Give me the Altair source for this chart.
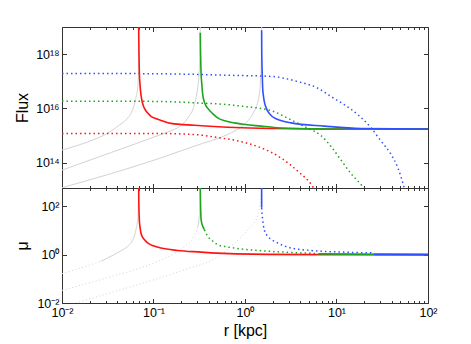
import altair as alt
import pandas as pd

# ---------------- data (log10 r [kpc], log10 value) ----------------
# Top panel: Flux
gray1_top_logr = [-2.0, -1.8, -1.647, -1.55, -1.464, -1.38, -1.282, -1.24, -1.21, -1.19, -1.173, -1.166, -1.1625, -1.162]
gray1_top_logf = [14.47, 14.67, 14.86, 15.0, 15.17, 15.37, 15.65, 15.86, 16.14, 16.42, 16.76, 17.2, 17.8, 19.0]
gray2_top_logr = [-2.0, -1.46, -0.918, -0.8, -0.736, -0.626, -0.554, -0.517, -0.5, -0.492, -0.489]
gray2_top_logf = [13.73, 14.38, 15.04, 15.19, 15.29, 15.65, 16.14, 16.76, 17.4, 18.2, 19.0]
gray3_top_logr = [-2.0, -0.918, -0.554, -0.19, -0.1, -0.008, 0.05, 0.101, 0.156, 0.175, 0.18, 0.182]
gray3_top_logf = [13.08, 14.18, 14.61, 15.04, 15.19, 15.41, 15.62, 15.90, 16.51, 17.37, 18.2, 19.0]

red_solid_top_logr = [-1.162, -1.161, -1.158, -1.155, -1.148, -1.137, -1.12, -1.10, -1.06, -1.027, -0.97, -0.918, -0.809, -0.554, -0.19, 0.284, 1.0, 2.0]
red_solid_top_logf = [19.0, 18.6, 17.9, 17.37, 16.9, 16.51, 16.2, 16.01, 15.82, 15.71, 15.62, 15.56, 15.45, 15.38, 15.31, 15.26, 15.24, 15.24]
red_dot_top_logr = [-2.0, -1.0, -0.554, -0.3, -0.044, 0.175, 0.393, 0.576, 0.721, 0.75]
red_dot_top_logf = [15.08, 15.08, 15.04, 14.93, 14.78, 14.55, 14.18, 13.69, 13.21, 13.07]

green_solid_top_logr = [-0.489, -0.487, -0.484, -0.481, -0.472, -0.462, -0.44, -0.408, -0.35, -0.299, -0.2, -0.117, 0.0, 0.175, 0.32, 0.686, 1.0, 2.0]
green_solid_top_logf = [18.79, 18.3, 17.8, 17.37, 16.9, 16.51, 16.2, 16.01, 15.8, 15.65, 15.53, 15.47, 15.41, 15.35, 15.30, 15.25, 15.24, 15.24]
green_dot_top_logr = [-2.0, -1.0, -0.5, -0.19, 0.0, 0.284, 0.503, 0.686, 0.831, 0.94, 1.049, 1.158, 1.268, 1.30]
green_dot_top_logf = [16.27, 16.26, 16.2, 16.14, 16.07, 15.92, 15.58, 15.27, 15.0, 14.6, 14.1, 13.6, 13.2, 13.07]

blue_solid_top_logr = [0.182, 0.1825, 0.185, 0.189, 0.193, 0.2, 0.21, 0.228, 0.248, 0.28, 0.32, 0.4, 0.503, 0.867, 1.268, 2.0]
blue_solid_top_logf = [18.88, 18.3, 17.7, 17.2, 16.76, 16.5, 16.27, 16.05, 15.90, 15.76, 15.65, 15.55, 15.47, 15.35, 15.26, 15.24]
blue_dot_top_logr = [-2.0, -1.0, -0.153, 0.284, 0.576, 0.794, 0.94, 1.085, 1.23, 1.377, 1.486, 1.596, 1.67, 1.74]
blue_dot_top_logf = [17.29, 17.28, 17.22, 17.18, 16.99, 16.75, 16.44, 16.14, 15.78, 15.29, 14.80, 14.31, 13.82, 13.08]

# Bottom panel: magnification mu
gray1_bot_dot_logr = [-2.0, -1.792, -1.574]
gray1_bot_dot_logm = [-0.79, -0.55, -0.28]
gray1_bot_solid_logr = [-1.574, -1.5, -1.428, -1.35, -1.282, -1.24, -1.21, -1.19, -1.173, -1.166, -1.162]
gray1_bot_solid_logm = [-0.28, -0.13, 0.0, 0.17, 0.34, 0.52, 0.76, 1.05, 1.45, 2.0, 2.75]
gray2_bot_dot_logr = [-2.0, -1.5, -1.0, -0.75, -0.626, -0.554, -0.52]
gray2_bot_dot_logm = [-1.48, -0.95, -0.35, 0.1, 0.45, 0.76, 1.1]
gray2_bot_solid_logr = [-0.52, -0.5, -0.492, -0.489]
gray2_bot_solid_logm = [1.1, 1.6, 2.1, 2.75]
gray3_bot_dot_logr = [-1.85, -1.4, -0.918, -0.6, -0.372, -0.262, -0.15, -0.044, 0.05, 0.101, 0.156, 0.175, 0.182]
gray3_bot_dot_logm = [-2.0, -1.5, -0.95, -0.55, -0.25, 0.0, 0.35, 0.72, 1.1, 1.31, 1.86, 2.4, 2.75]

red_bot_logr = [-1.162, -1.1605, -1.158, -1.155, -1.147, -1.137, -1.12, -1.1, -1.064, -1.0, -0.918, -0.736, -0.48, -0.372, 0.248, 0.83, 2.0]
red_bot_logm = [2.75, 2.2, 1.75, 1.45, 1.12, 0.89, 0.72, 0.62, 0.48, 0.36, 0.27, 0.17, 0.1, 0.07, 0.01, 0.0, 0.0]

green_bot_solid1_logr = [-0.489, -0.487, -0.484, -0.48, -0.465, -0.444]
green_bot_solid1_logm = [2.75, 2.3, 1.8, 1.45, 1.2, 1.03]
green_bot_dot_logr = [-0.444, -0.408, -0.35, -0.299, -0.2, -0.117, 0.248, 0.612, 0.8]
green_bot_dot_logm = [1.03, 0.76, 0.55, 0.41, 0.32, 0.27, 0.14, 0.07, 0.04]
green_bot_solid2_logr = [0.8, 1.41, 2.0]
green_bot_solid2_logm = [0.03, 0.01, 0.0]

blue_bot_solid1_logr = [0.182, 0.1821]
blue_bot_solid1_logm = [2.75, 1.93]
blue_bot_dot_logr = [0.182, 0.186, 0.193, 0.21, 0.248, 0.3, 0.357, 0.503, 0.721, 1.085, 1.41]
blue_bot_dot_logm = [1.93, 1.7, 1.45, 1.03, 0.76, 0.6, 0.48, 0.27, 0.17, 0.10, 0.07]
blue_bot_solid2_logr = [1.41, 2.0]
blue_bot_solid2_logm = [0.01, 0.0]

# axis ticks
x_major = [0.01, 0.1, 1, 10, 100]
x_minor = [k * 10.0 ** d for d in range(-2, 2) for k in range(2, 10)]
top_y_major = [1e14, 1e16, 1e18]
bot_y_major = [1e-2, 1e0, 1e2]

# ---------------- styling ----------------
RED, GREEN, BLUE, GRAY = "#ff1414", "#1ea51e", "#2f50ff", "#d2d2d2"
FONT = "Liberation Sans"
FRAME = "#333333"

rows = []


def add(panel, name, logr, logv, color, style):
    for i, (a, b) in enumerate(zip(logr, logv)):
        rows.append(dict(panel=panel, seg=name, i=i, r=10.0 ** a, v=10.0 ** b,
                         color=color, style=style))


add("top", "g1", gray1_top_logr, gray1_top_logf, GRAY, "gsolid")
add("top", "g2", gray2_top_logr, gray2_top_logf, GRAY, "gsolid")
add("top", "g3", gray3_top_logr, gray3_top_logf, GRAY, "gsolid")
add("top", "rd", red_dot_top_logr, red_dot_top_logf, RED, "dot")
add("top", "gd", green_dot_top_logr, green_dot_top_logf, GREEN, "dot")
add("top", "bd", blue_dot_top_logr, blue_dot_top_logf, BLUE, "dot")
add("top", "rs", red_solid_top_logr, red_solid_top_logf, RED, "solid")
add("top", "gs", green_solid_top_logr, green_solid_top_logf, GREEN, "solid")
add("top", "bs", blue_solid_top_logr, blue_solid_top_logf, BLUE, "solid")

add("bot", "g1d", gray1_bot_dot_logr, gray1_bot_dot_logm, GRAY, "gdot")
add("bot", "g1s", gray1_bot_solid_logr, gray1_bot_solid_logm, GRAY, "gsolid")
add("bot", "g2d", gray2_bot_dot_logr, gray2_bot_dot_logm, GRAY, "gdot")
add("bot", "g2s", gray2_bot_solid_logr, gray2_bot_solid_logm, GRAY, "gsolid")
add("bot", "g3d", gray3_bot_dot_logr, gray3_bot_dot_logm, GRAY, "gdot")
add("bot", "gd", green_bot_dot_logr, green_bot_dot_logm, GREEN, "dot")
add("bot", "bd", blue_bot_dot_logr, blue_bot_dot_logm, BLUE, "dot")
add("bot", "rs", red_bot_logr, red_bot_logm, RED, "solid")
add("bot", "gs1", green_bot_solid1_logr, green_bot_solid1_logm, GREEN, "solid")
add("bot", "gs2", green_bot_solid2_logr, green_bot_solid2_logm, GREEN, "solid")
add("bot", "bs1", blue_bot_solid1_logr, blue_bot_solid1_logm, BLUE, "solid")
add("bot", "bs2", blue_bot_solid2_logr, blue_bot_solid2_logm, BLUE, "solid")

df = pd.DataFrame(rows)

SUP = {-2: "⁻²", -1: "⁻¹", 0: "⁰", 1: "¹", 2: "²", 14: "¹⁴", 16: "¹⁶", 18: "¹⁸"}


def label_expr(exps):
    e = "round(log(datum.value)/LN10)"
    expr = "''"
    for k in reversed(exps):
        expr = f"({e}=={k} ? '10{SUP[k]}' : {expr})"
    return expr


W = 366
MAJ, MIN = 4.5, 2.5


def xaxis(orient, values, size, labels, title=None):
    kw = dict(orient=orient, values=values, tickSize=size, offset=-size, domain=False,
              grid=False, tickColor=FRAME, tickWidth=1, labels=labels, title=title)
    if labels:
        kw.update(labelExpr=label_expr([-2, -1, 0, 1, 2]), labelFont=FONT, labelFontSize=12.5,
                  labelColor="black", labelPadding=3, labelFlush=False, labelOverlap=False)
    if title:
        kw.update(titleFont=FONT, titleFontSize=16, titleFontWeight="normal", titleColor="black",
                  titleX=W / 2, titleY=32, titleBaseline="middle", titleAlign="center")
    return alt.Axis(**kw)


def yaxis(orient, values, exps, labels, title, h):
    kw = dict(orient=orient, values=values, tickSize=MAJ, offset=-MAJ, domain=False,
              grid=False, tickColor=FRAME, tickWidth=1, labels=labels, title=title)
    if labels:
        kw.update(labelExpr=label_expr(exps), labelFont=FONT, labelFontSize=12.5,
                  labelColor="black", labelPadding=3, labelOverlap=False)
    if title:
        kw.update(titleFont=FONT, titleFontSize=16, titleFontWeight="normal", titleColor="black",
                  titleX=-44.5, titleY=h / 2, titleBaseline="middle", titleAlign="center", titleAngle=270)
    return alt.Axis(**kw)


def panel(name, ydom, ymaj, yexps, ytitle, h, bottom_labels):
    d = df[df.panel == name]
    xs = alt.Scale(type="log", domain=[0.01, 100], nice=False)
    ys = alt.Scale(type="log", domain=ydom, nice=False)
    enc = dict(x=alt.X("r:Q", scale=xs, axis=None), y=alt.Y("v:Q", scale=ys, axis=None),
               color=alt.Color("color:N", scale=None), detail="seg:N", order="i:Q")
    layers = []
    styles = [("gsolid", 1.0, None), ("gdot", 1.0, [1, 2.5]), ("dot", 1.5, [1.5, 3]), ("solid", 1.6, None)]
    for st, wdt, dash in styles:
        sub = d[d["style"] == st]
        if len(sub) == 0:
            continue
        mk = dict(clip=True, strokeWidth=wdt, strokeCap="butt", interpolate="monotone")
        if dash:
            mk["strokeDash"] = dash
        layers.append(alt.Chart(sub).mark_line(**mk).encode(**enc))
    ax = pd.DataFrame({"r": [1.0], "v": [ymaj[1]]})
    axis_specs = [
        (xaxis("bottom", x_major, MAJ, bottom_labels, "r [kpc]" if bottom_labels else None),
         yaxis("left", ymaj, yexps, True, ytitle, h)),
        (xaxis("bottom", x_minor, MIN, False), yaxis("right", ymaj, yexps, False, None, h)),
        (xaxis("top", x_major, MAJ, False), None),
        (xaxis("top", x_minor, MIN, False), None),
    ]
    for xa, ya in axis_specs:
        e = dict(x=alt.X("r:Q", scale=xs, axis=xa))
        e["y"] = alt.Y("v:Q", scale=ys, axis=ya) if ya is not None else alt.Y("v:Q", scale=ys, axis=None)
        layers.append(alt.Chart(ax).mark_point(opacity=0).encode(**e))
    return alt.layer(*layers).resolve_axis(x="independent", y="independent").properties(width=W, height=h)


top = panel("top", [10 ** 13.07, 1e19], top_y_major, [14, 16, 18], "Flux", 161, False)
bot = panel("bot", [1e-2, 10 ** 2.75], bot_y_major, [-2, 0, 2], "μ", 115, True)

chart = alt.vconcat(top, bot, spacing=0, bounds="flush").properties(
    padding={"left": 5, "top": 18, "right": 5, "bottom": 5},
).configure_view(stroke=FRAME, strokeWidth=1)

chart.save("out.html", embed_options={"renderer": "svg", "actions": False})
